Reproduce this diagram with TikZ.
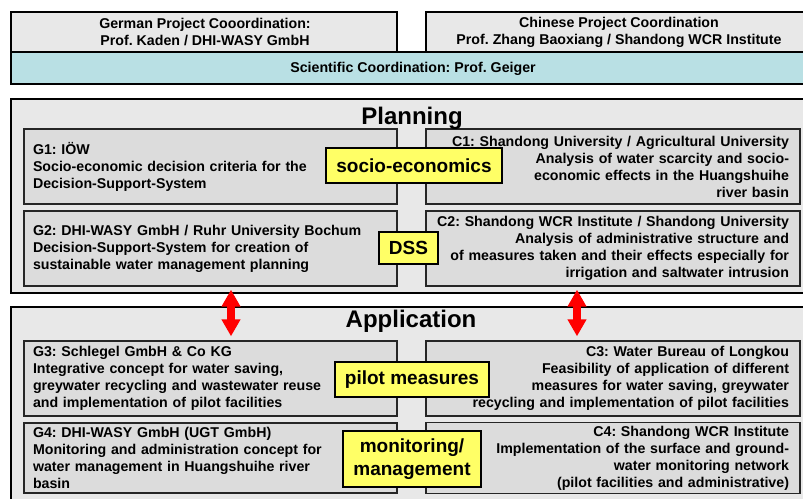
\documentclass[tikz,border=0pt]{standalone}
\usepackage{fontspec}
\setmainfont{Liberation Sans}
\usetikzlibrary{arrows.meta}
\frenchspacing
\definecolor{boxgray}{HTML}{E8E8E8}
\definecolor{innergray}{HTML}{DCDCDC}
\definecolor{cyanbar}{HTML}{B9E0E4}
\definecolor{labelyellow}{HTML}{FFFF66}
\tikzset{
  topbox/.style={draw=black, line width=1.4pt, fill=boxgray},
  outerbox/.style={draw=black, line width=1.6pt, fill=boxgray, inner sep=0pt},
  gbox/.style={draw=black!85, line width=1.4pt, fill=innergray, minimum width=373pt, minimum height=75pt,
     text width=355pt, inner xsep=9pt, align=left, font=\fontsize{14.2}{17}\selectfont\bfseries},
  cbox/.style={draw=black!85, line width=1.4pt, fill=innergray, minimum width=374pt, minimum height=75pt,
     text width=352pt, inner xsep=11pt, align=right, font=\fontsize{14.2}{17}\selectfont\bfseries},
  toptext/.style={align=center, font=\fontsize{14.2}{17}\selectfont\bfseries},
  titletext/.style={font=\fontsize{24}{28}\selectfont\bfseries, anchor=base},
  themelabel/.style={draw=black, line width=1.5pt, fill=labelyellow, align=center, inner sep=0pt,
     font=\fontsize{19}{23}\selectfont\bfseries},
  bigarrow/.style={draw=red, line width=8pt, {Triangle[width=18pt,length=17pt]}-{Triangle[width=18pt,length=17pt]}},
}
\begin{document}
\begin{tikzpicture}[x=1pt,y=-1pt]
\useasboundingbox (0,0) rectangle (803,498);
% top coordination boxes
\node[topbox, minimum width=386pt, minimum height=40pt] (german) at (204,32) {};
\node[toptext] (germantext) at (205,32) {German Project Cooordination:\\Prof. Kaden / DHI-WASY GmbH};
\node[topbox, minimum width=386pt, minimum height=40pt] (chinese) at (619,32) {};
\node[toptext] (chinesetext) at (619,32) {Chinese Project Coordination\\Prof. Zhang Baoxiang / Shandong WCR Institute};
\node[topbox, fill=cyanbar, minimum width=800pt, minimum height=32pt] (sci) at (411,68) {};
\node[toptext] (scitext) at (413,69) {Scientific Coordination: Prof. Geiger};
% planning
\node[outerbox, minimum width=800pt, minimum height=194pt] (plan) at (411,196) {};
\node[gbox] (g1) at (210.5,166.5) {G1: IÖW\\Socio-economic decision criteria for the\\Decision-Support-System};
\node[gbox] (g2) at (210.5,248.5) {G2: DHI-WASY GmbH / Ruhr University Bochum\\Decision-Support-System for creation of\\sustainable water management planning};
\node[cbox] (c1) at (613,166.5) {C1: Shandong University / Agricultural University\\Analysis of water scarcity and socio-\\economic effects in the Huangshuihe\\river basin};
\node[cbox] (c2) at (613,248.5) {C2: Shandong WCR Institute / Shandong University\\Analysis of administrative structure and\\of measures taken and their effects especially for\\irrigation and saltwater intrusion};
\node[titletext] (plantitle) at (412,124) {Planning};
\node[themelabel, minimum width=176pt, minimum height=35pt] (socio) at (414,165.5) {socio-economics};
\node[themelabel, minimum width=59pt, minimum height=32pt] (dss) at (408.5,248) {DSS};
% application
\node[outerbox, minimum width=800pt, minimum height=200pt] (appl) at (411,407) {};
\node[gbox] (g3) at (210.5,378.5) {G3: Schlegel GmbH \& Co KG\\Integrative concept for water saving,\\greywater recycling and wastewater reuse\\and implementation of pilot facilities};
\node[gbox, minimum height=70pt] (g4) at (210.5,458) {G4: DHI-WASY GmbH (UGT GmbH)\\Monitoring and administration concept for\\water management in Huangshuihe river\\basin};
\node[cbox] (c3) at (613,378.5) {C3: Water Bureau of Longkou\\Feasibility of application of different\\measures for water saving, greywater\\recycling and implementation of pilot facilities};
\node[cbox, minimum height=70pt] (c4) at (613,458) {C4: Shandong WCR Institute\\Implementation of the surface and ground-\\water monitoring network\\(pilot facilities and administrative)};
\node[titletext] (appltitle) at (411,327) {Application};
\node[themelabel, minimum width=154pt, minimum height=35pt] (pilot) at (412,379.5) {pilot measures};
\node[themelabel, minimum width=138pt, minimum height=56pt] (monit) at (412,459) {monitoring/\\management};
% arrows
\coordinate (ax1) at (231,0);
\coordinate (ax2) at (577,0);
\draw[bigarrow] ([yshift=-3pt]g2.south -| ax1) -- ([yshift=4pt]g3.north -| ax1);
\draw[bigarrow] ([yshift=-3pt]c2.south -| ax2) -- ([yshift=4pt]c3.north -| ax2);
\end{tikzpicture}
\end{document}
